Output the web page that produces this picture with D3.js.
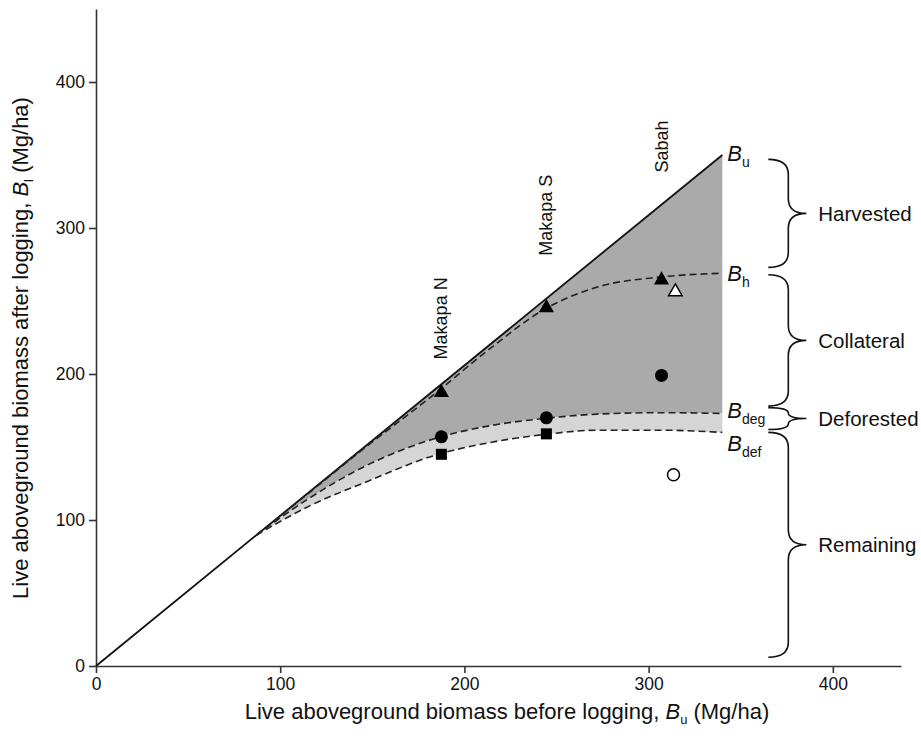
<!DOCTYPE html>
<html><head><meta charset="utf-8">
<script src="https://cdn.jsdelivr.net/npm/d3@7"></script>
<style>
body{margin:0;background:#fff;}
text{font-family:"Liberation Sans",Arial,Helvetica,sans-serif;fill:#111;}
</style>
</head><body>
<svg id="chart" width="921" height="740"></svg>
<script>
// ---- data ----
const xTicks = [0, 100, 200, 300, 400];
const yTicks = [0, 100, 200, 300, 400];
const curveX = [87, 116.5, 145.5, 184.5, 213.5, 243, 272, 307, 340];
const bu   = [89.6, 120, 149.8, 190, 219.8, 250, 280, 316, 350];
const bh   = [89.6, 119.5, 149, 187, 217, 244, 259.5, 266.5, 269];
const bdeg = [89.6, 115.5, 136.5, 156, 164.5, 169.5, 172.5, 173.5, 173];
const bdef = [89.6, 110, 125.5, 144.5, 153, 158.5, 161.5, 161.5, 160];
const diagStart = [0, 0];
const diagEnd = [340, 350];
const sites = ["Makapa N", "Makapa S", "Sabah"];
const siteX = [187.5, 244.5, 307];
const siteLabelY = [210, 281, 338];
const triFilled = [[187.5, 188], [244.5, 246], [307, 265]];
const circFilled = [[187.5, 157], [244.5, 170], [307, 199]];
const squares = [[187.5, 145], [244.5, 159]];
const triOpen = [[314.5, 257]];
const circOpen = [[313.5, 131]];
const curveNames = [["u", 350], ["h", 269], ["deg", 173], ["def", 160]];
const braceNames = ["Harvested", "Collateral", "Deforested", "Remaining"];
const braceTop = [347, 268, 177, 160];
const braceBottom = [273, 178, 162, 6];

// ---- scales ----
const svg = d3.select("#chart");
const x = d3.scaleLinear().domain([0, 437]).range([96, 901]);
const y = d3.scaleLinear().domain([0, 450]).range([666, 9]);

// ---- shaded areas ----
const pts = curveX.map((cx, i) => ({x: cx, u: bu[i], h: bh[i], deg: bdeg[i], def: bdef[i]}));
svg.append("path").datum(pts)
  .attr("d", d3.area().x(d => x(d.x)).y0(d => y(d.deg)).y1(d => y(d.u)).curve(d3.curveMonotoneX))
  .attr("fill", "#aaaaaa");
svg.append("path").datum(pts)
  .attr("d", d3.area().x(d => x(d.x)).y0(d => y(d.def)).y1(d => y(d.deg)).curve(d3.curveMonotoneX))
  .attr("fill", "#d5d5d5");

// ---- axes ----
const xAxis = svg.append("g").attr("transform", `translate(0,${y(0)})`)
  .call(d3.axisBottom(x).tickValues(xTicks).tickSize(7).tickSizeOuter(0).tickPadding(5));
const yAxis = svg.append("g").attr("transform", `translate(${x(0)},0)`)
  .call(d3.axisLeft(y).tickValues(yTicks).tickSize(7).tickSizeOuter(0).tickPadding(4));
[xAxis, yAxis].forEach(g => {
  g.selectAll("path,line").attr("stroke", "#333").attr("stroke-width", 1.6);
  g.selectAll("text").style("font-size", "17.5px").attr("fill", "#222");
});

// ---- diagonal (B_u = B_l) ----
svg.append("line")
  .attr("x1", x(diagStart[0])).attr("y1", y(diagStart[1])).attr("x2", x(diagEnd[0])).attr("y2", y(diagEnd[1]))
  .attr("stroke", "#111").attr("stroke-width", 1.8);

// ---- dashed curves ----
[bh, bdeg, bdef].forEach(arr => {
  svg.append("path").datum(curveX.map((cx, i) => [cx, arr[i]]))
    .attr("d", d3.line().x(d => x(d[0])).y(d => y(d[1])).curve(d3.curveMonotoneX))
    .attr("fill", "none").attr("stroke", "#222").attr("stroke-width", 1.6)
    .attr("stroke-dasharray", "7,4");
});

// ---- curve labels ----
const labOff = {u: 6, h: 8, deg: 5, def: 19};
curveNames.forEach(([sub, v]) => {
  const t = svg.append("text").attr("x", x(diagEnd[0]) + 5).attr("y", y(v) + labOff[sub])
    .style("font-size", "22px");
  t.append("tspan").text("B").style("font-style", "italic");
  t.append("tspan").text(sub).attr("dy", 6).style("font-size", "14px");
});

// ---- site labels ----
sites.forEach((s, i) => {
  svg.append("text")
    .attr("transform", `translate(${x(siteX[i]) + 6},${y(siteLabelY[i])}) rotate(-90)`)
    .style("font-size", "18px").text(s);
});

// ---- markers ----
const triSym = d3.symbol().type(d3.symbolTriangle).size(100);
triFilled.forEach(d => svg.append("path").attr("d", triSym())
  .attr("transform", `translate(${x(d[0])},${y(d[1]) + 1})`).attr("fill", "#000"));
triOpen.forEach(d => svg.append("path").attr("d", d3.symbol().type(d3.symbolTriangle).size(80)())
  .attr("transform", `translate(${x(d[0])},${y(d[1]) + 1})`).attr("fill", "#fff").attr("stroke", "#000").attr("stroke-width", 1.5));
circFilled.forEach(d => svg.append("circle").attr("cx", x(d[0])).attr("cy", y(d[1])).attr("r", 6.5).attr("fill", "#000"));
circOpen.forEach(d => svg.append("circle").attr("cx", x(d[0])).attr("cy", y(d[1])).attr("r", 6).attr("fill", "#fff").attr("stroke", "#000").attr("stroke-width", 1.5));
squares.forEach(d => svg.append("rect").attr("x", x(d[0]) - 5.5).attr("y", y(d[1]) - 5.5)
  .attr("width", 11).attr("height", 11).attr("fill", "#000"));

// ---- braces ----
function bracePath(xl, xs, xt, yt, yb) {
  const ym = (yt + yb) / 2;
  const r = Math.min(15, (yb - yt) / 4);
  return `M${xl},${yt} Q${xs},${yt} ${xs},${yt + r} L${xs},${ym - r} Q${xs},${ym} ${xt},${ym}` +
         ` Q${xs},${ym} ${xs},${ym + r} L${xs},${yb - r} Q${xs},${yb} ${xl},${yb}`;
}
braceNames.forEach((n, i) => {
  const yt = y(braceTop[i]), yb = y(braceBottom[i]);
  const xl = x(diagEnd[0]) + 46, xs = xl + 20, xt = xl + 38;
  svg.append("path").attr("d", bracePath(xl, xs, xt, yt, yb))
    .attr("fill", "none").attr("stroke", "#111").attr("stroke-width", 1.6);
  svg.append("text").attr("x", xl + 50).attr("y", (yt + yb) / 2).attr("dy", "0.35em")
    .style("font-size", "20.5px").text(n);
});

// ---- axis titles ----
const xt = svg.append("text").attr("x", 507).attr("y", 719).attr("text-anchor", "middle").style("font-size", "22px");
xt.append("tspan").text("Live aboveground biomass before logging, ");
xt.append("tspan").text("B").style("font-style", "italic");
xt.append("tspan").text("u").attr("dy", 5).style("font-size", "13px");
xt.append("tspan").text(" (Mg/ha)").attr("dy", -5);

const yt = svg.append("text").attr("transform", "translate(28,348) rotate(-90)").attr("text-anchor", "middle").style("font-size", "22px");
yt.append("tspan").text("Live aboveground biomass after logging, ");
yt.append("tspan").text("B").style("font-style", "italic");
yt.append("tspan").text("l").attr("dy", 5).style("font-size", "13px");
yt.append("tspan").text(" (Mg/ha)").attr("dy", -5);
</script>
</body></html>
